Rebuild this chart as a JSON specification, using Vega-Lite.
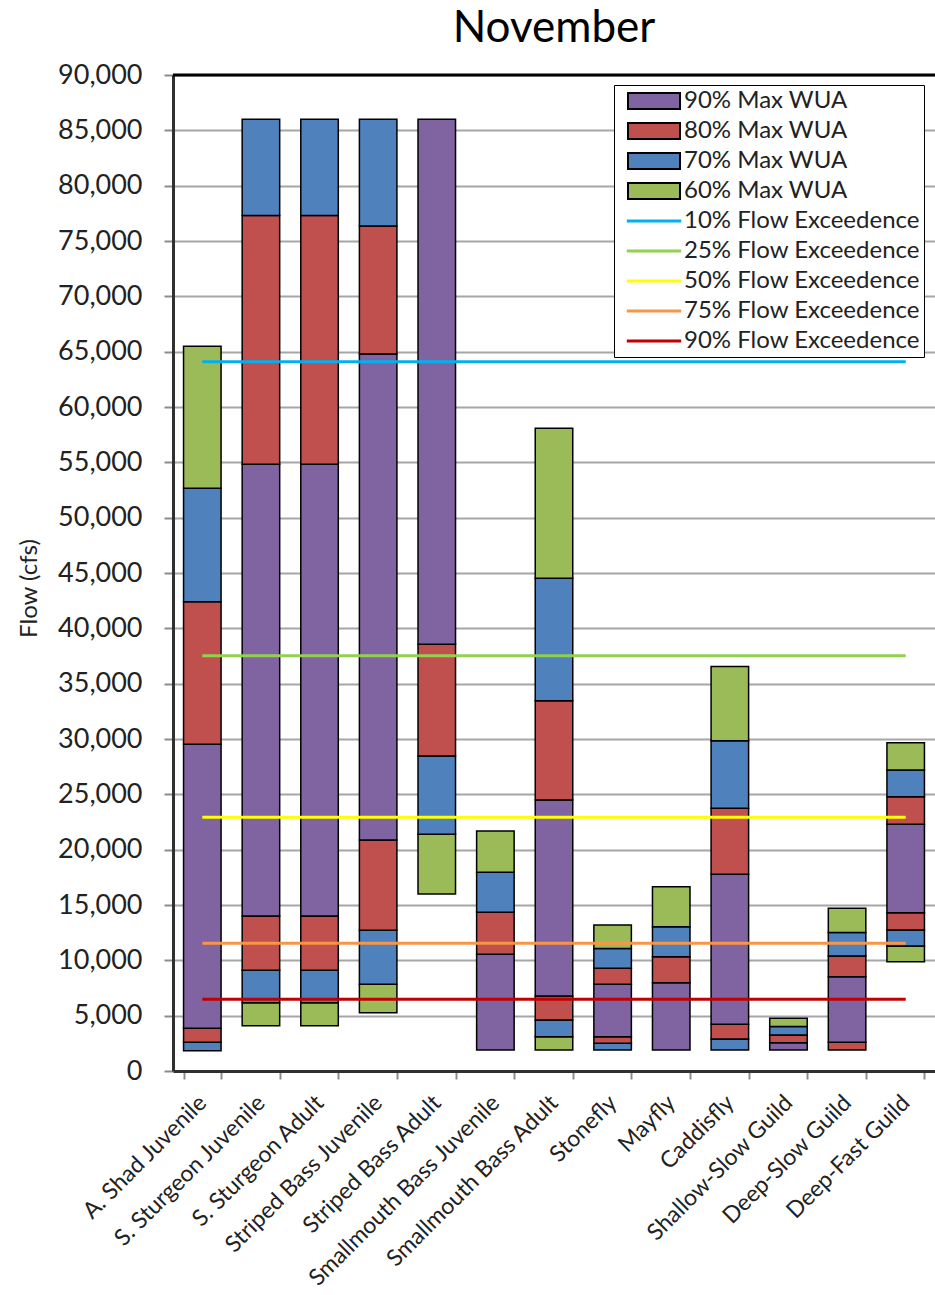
{
  "$schema": "https://vega.github.io/schema/vega-lite/v6.json",
  "width": 762,
  "height": 996,
  "autosize": "none",
  "padding": {"left": 173, "top": 75, "right": 0, "bottom": 224},
  "background": "white",
  "config": {
    "view": {"stroke": null},
    "font": "Lato"
  },
  "title": {"text": "November", "fontSize": 44, "font": "Lato", "fontWeight": "normal", "color": "black", "anchor": "middle", "offset": 10},
  "datasets": {
    "bars": [
      {"species": "A. Shad Juvenile", "level": "70% Max WUA", "lo": 1840, "hi": 2590},
      {"species": "A. Shad Juvenile", "level": "80% Max WUA", "lo": 2590, "hi": 3860},
      {"species": "A. Shad Juvenile", "level": "90% Max WUA", "lo": 3860, "hi": 29520},
      {"species": "A. Shad Juvenile", "level": "80% Max WUA", "lo": 29520, "hi": 42400},
      {"species": "A. Shad Juvenile", "level": "70% Max WUA", "lo": 42400, "hi": 52650},
      {"species": "A. Shad Juvenile", "level": "60% Max WUA", "lo": 52650, "hi": 65500},
      {"species": "S. Sturgeon Juvenile", "level": "60% Max WUA", "lo": 4100, "hi": 6170},
      {"species": "S. Sturgeon Juvenile", "level": "70% Max WUA", "lo": 6170, "hi": 9100},
      {"species": "S. Sturgeon Juvenile", "level": "80% Max WUA", "lo": 9100, "hi": 14000},
      {"species": "S. Sturgeon Juvenile", "level": "90% Max WUA", "lo": 14000, "hi": 54820},
      {"species": "S. Sturgeon Juvenile", "level": "80% Max WUA", "lo": 54820, "hi": 77300},
      {"species": "S. Sturgeon Juvenile", "level": "70% Max WUA", "lo": 77300, "hi": 86000},
      {"species": "S. Sturgeon Adult", "level": "60% Max WUA", "lo": 4100, "hi": 6170},
      {"species": "S. Sturgeon Adult", "level": "70% Max WUA", "lo": 6170, "hi": 9100},
      {"species": "S. Sturgeon Adult", "level": "80% Max WUA", "lo": 9100, "hi": 14000},
      {"species": "S. Sturgeon Adult", "level": "90% Max WUA", "lo": 14000, "hi": 54820},
      {"species": "S. Sturgeon Adult", "level": "80% Max WUA", "lo": 54820, "hi": 77300},
      {"species": "S. Sturgeon Adult", "level": "70% Max WUA", "lo": 77300, "hi": 86000},
      {"species": "Striped Bass Juvenile", "level": "60% Max WUA", "lo": 5270, "hi": 7830},
      {"species": "Striped Bass Juvenile", "level": "70% Max WUA", "lo": 7830, "hi": 12710},
      {"species": "Striped Bass Juvenile", "level": "80% Max WUA", "lo": 12710, "hi": 20870},
      {"species": "Striped Bass Juvenile", "level": "90% Max WUA", "lo": 20870, "hi": 64790},
      {"species": "Striped Bass Juvenile", "level": "80% Max WUA", "lo": 64790, "hi": 76350},
      {"species": "Striped Bass Juvenile", "level": "70% Max WUA", "lo": 76350, "hi": 86000},
      {"species": "Striped Bass Adult", "level": "60% Max WUA", "lo": 15990, "hi": 21390},
      {"species": "Striped Bass Adult", "level": "70% Max WUA", "lo": 21390, "hi": 28460},
      {"species": "Striped Bass Adult", "level": "80% Max WUA", "lo": 28460, "hi": 38560},
      {"species": "Striped Bass Adult", "level": "90% Max WUA", "lo": 38560, "hi": 86000},
      {"species": "Smallmouth Bass Juvenile", "level": "90% Max WUA", "lo": 1900, "hi": 10540},
      {"species": "Smallmouth Bass Juvenile", "level": "80% Max WUA", "lo": 10540, "hi": 14340},
      {"species": "Smallmouth Bass Juvenile", "level": "70% Max WUA", "lo": 14340, "hi": 17950},
      {"species": "Smallmouth Bass Juvenile", "level": "60% Max WUA", "lo": 17950, "hi": 21690},
      {"species": "Smallmouth Bass Adult", "level": "60% Max WUA", "lo": 1900, "hi": 3100},
      {"species": "Smallmouth Bass Adult", "level": "70% Max WUA", "lo": 3100, "hi": 4610},
      {"species": "Smallmouth Bass Adult", "level": "80% Max WUA", "lo": 4610, "hi": 6780},
      {"species": "Smallmouth Bass Adult", "level": "90% Max WUA", "lo": 6780, "hi": 24490},
      {"species": "Smallmouth Bass Adult", "level": "80% Max WUA", "lo": 24490, "hi": 33460},
      {"species": "Smallmouth Bass Adult", "level": "70% Max WUA", "lo": 33460, "hi": 44520},
      {"species": "Smallmouth Bass Adult", "level": "60% Max WUA", "lo": 44520, "hi": 58070},
      {"species": "Stonefly", "level": "70% Max WUA", "lo": 1900, "hi": 2500},
      {"species": "Stonefly", "level": "80% Max WUA", "lo": 2500, "hi": 3100},
      {"species": "Stonefly", "level": "90% Max WUA", "lo": 3100, "hi": 7830},
      {"species": "Stonefly", "level": "80% Max WUA", "lo": 7830, "hi": 9280},
      {"species": "Stonefly", "level": "70% Max WUA", "lo": 9280, "hi": 11080},
      {"species": "Stonefly", "level": "60% Max WUA", "lo": 11080, "hi": 13190},
      {"species": "Mayfly", "level": "90% Max WUA", "lo": 1900, "hi": 7980},
      {"species": "Mayfly", "level": "80% Max WUA", "lo": 7980, "hi": 10330},
      {"species": "Mayfly", "level": "70% Max WUA", "lo": 10330, "hi": 13040},
      {"species": "Mayfly", "level": "60% Max WUA", "lo": 13040, "hi": 16650},
      {"species": "Caddisfly", "level": "70% Max WUA", "lo": 1900, "hi": 2890},
      {"species": "Caddisfly", "level": "80% Max WUA", "lo": 2890, "hi": 4220},
      {"species": "Caddisfly", "level": "90% Max WUA", "lo": 4220, "hi": 17780},
      {"species": "Caddisfly", "level": "80% Max WUA", "lo": 17780, "hi": 23740},
      {"species": "Caddisfly", "level": "70% Max WUA", "lo": 23740, "hi": 29850},
      {"species": "Caddisfly", "level": "60% Max WUA", "lo": 29850, "hi": 36540},
      {"species": "Shallow-Slow Guild", "level": "90% Max WUA", "lo": 1900, "hi": 2560},
      {"species": "Shallow-Slow Guild", "level": "80% Max WUA", "lo": 2560, "hi": 3250},
      {"species": "Shallow-Slow Guild", "level": "70% Max WUA", "lo": 3250, "hi": 4010},
      {"species": "Shallow-Slow Guild", "level": "60% Max WUA", "lo": 4010, "hi": 4760},
      {"species": "Deep-Slow Guild", "level": "80% Max WUA", "lo": 1900, "hi": 2590},
      {"species": "Deep-Slow Guild", "level": "90% Max WUA", "lo": 2590, "hi": 8520},
      {"species": "Deep-Slow Guild", "level": "80% Max WUA", "lo": 8520, "hi": 10390},
      {"species": "Deep-Slow Guild", "level": "70% Max WUA", "lo": 10390, "hi": 12510},
      {"species": "Deep-Slow Guild", "level": "60% Max WUA", "lo": 12510, "hi": 14700},
      {"species": "Deep-Fast Guild", "level": "60% Max WUA", "lo": 9880, "hi": 11290},
      {"species": "Deep-Fast Guild", "level": "70% Max WUA", "lo": 11290, "hi": 12740},
      {"species": "Deep-Fast Guild", "level": "80% Max WUA", "lo": 12740, "hi": 14300},
      {"species": "Deep-Fast Guild", "level": "90% Max WUA", "lo": 14300, "hi": 22290},
      {"species": "Deep-Fast Guild", "level": "80% Max WUA", "lo": 22290, "hi": 24790},
      {"species": "Deep-Fast Guild", "level": "70% Max WUA", "lo": 24790, "hi": 27200},
      {"species": "Deep-Fast Guild", "level": "60% Max WUA", "lo": 27200, "hi": 29670}
    ],
    "flows": [
      {"species": "A. Shad Juvenile", "level": "10% Flow Exceedence", "flow": 64100},
      {"species": "Deep-Fast Guild", "level": "10% Flow Exceedence", "flow": 64100},
      {"species": "A. Shad Juvenile", "level": "25% Flow Exceedence", "flow": 37530},
      {"species": "Deep-Fast Guild", "level": "25% Flow Exceedence", "flow": 37530},
      {"species": "A. Shad Juvenile", "level": "50% Flow Exceedence", "flow": 22920},
      {"species": "Deep-Fast Guild", "level": "50% Flow Exceedence", "flow": 22920},
      {"species": "A. Shad Juvenile", "level": "75% Flow Exceedence", "flow": 11540},
      {"species": "Deep-Fast Guild", "level": "75% Flow Exceedence", "flow": 11540},
      {"species": "A. Shad Juvenile", "level": "90% Flow Exceedence", "flow": 6480},
      {"species": "Deep-Fast Guild", "level": "90% Flow Exceedence", "flow": 6480}
    ]
  },
  "layer": [
    {
      "data": {"name": "bars"},
      "mark": {"type": "bar", "strokeWidth": 1.5, "opacity": 1},
      "encoding": {
        "x": {
          "field": "species", "type": "nominal",
          "scale": {
            "domain": ["A. Shad Juvenile", "S. Sturgeon Juvenile", "S. Sturgeon Adult", "Striped Bass Juvenile", "Striped Bass Adult", "Smallmouth Bass Juvenile", "Smallmouth Bass Adult", "Stonefly", "Mayfly", "Caddisfly", "Shallow-Slow Guild", "Deep-Slow Guild", "Deep-Fast Guild"],
            "paddingInner": 0.36, "paddingOuter": 0.18
          },
          "axis": {
            "title": null, "labelAngle": -45, "labelAlign": "right", "labelBaseline": "middle",
            "labelFont": "Lato", "labelFontSize": 23, "labelColor": "#222222", "labelPadding": 20,
            "tickBand": "extent", "ticks": true, "tickSize": 8, "tickColor": "#8c8c8c", "tickWidth": 2,
            "domainColor": "#303030", "domainWidth": 3, "grid": false, "labelLimit": 400
          }
        },
        "y": {
          "field": "lo", "type": "quantitative",
          "scale": {"domain": [0, 90000], "nice": false},
          "axis": {
            "title": "Flow (cfs)", "titleFont": "Lato", "titleFontSize": 24, "titleFontWeight": "normal", "titleColor": "#222222",
            "titleX": -137, "titleY": 513, "titleAngle": -90, "titleBaseline": "alphabetic", "titleAlign": "center",
            "values": [0, 5000, 10000, 15000, 20000, 25000, 30000, 35000, 40000, 45000, 50000, 55000, 60000, 65000, 70000, 75000, 80000, 85000, 90000],
            "labelExpr": "format(datum.value, ',')",
            "labelFont": "Lato", "labelFontSize": 27, "labelColor": "#222222", "labelPadding": 22,
            "tickSize": 9, "tickColor": "#8c8c8c", "tickWidth": 2,
            "domainColor": "#303030", "domainWidth": 3,
            "grid": true, "gridColor": "#a6a6a6", "gridWidth": 2
          }
        },
        "y2": {"field": "hi"},
        "fill": {
          "field": "level", "type": "nominal",
          "scale": {
            "domain": ["90% Max WUA", "80% Max WUA", "70% Max WUA", "60% Max WUA", "10% Flow Exceedence", "25% Flow Exceedence", "50% Flow Exceedence", "75% Flow Exceedence", "90% Flow Exceedence"],
            "range": ["#8064A2", "#C0504D", "#4F81BD", "#9BBB59", "transparent", "transparent", "transparent", "transparent", "transparent"]
          },
          "legend": {
            "orient": "none", "legendX": 441, "legendY": 10, "title": null, "zindex": 0,
            "strokeColor": "black", "fillColor": "white", "padding": 4,
            "symbolType": "M-3.25,-1H3.25V1H-3.25Z", "symbolSize": 256, "symbolOffset": 24, "symbolStrokeWidth": 2,
            "labelOffset": 18, "labelFont": "Lato", "labelFontSize": 24, "labelColor": "#222222",
            "rowPadding": 6, "labelLimit": 400
          }
        },
        "stroke": {
          "field": "level", "type": "nominal",
          "scale": {
            "domain": ["90% Max WUA", "80% Max WUA", "70% Max WUA", "60% Max WUA", "10% Flow Exceedence", "25% Flow Exceedence", "50% Flow Exceedence", "75% Flow Exceedence", "90% Flow Exceedence"],
            "range": ["black", "black", "black", "black", "transparent", "transparent", "transparent", "transparent", "transparent"]
          },
          "legend": {
            "orient": "none", "legendX": 441, "legendY": 10, "title": null, "zindex": 0,
            "strokeColor": "black", "fillColor": "white", "padding": 4,
            "symbolType": "M-3.25,-1H3.25V1H-3.25Z", "symbolSize": 256, "symbolOffset": 24, "symbolStrokeWidth": 2,
            "labelOffset": 18, "labelFont": "Lato", "labelFontSize": 24, "labelColor": "#222222",
            "rowPadding": 6, "labelLimit": 400
          }
        }
      }
    },
    {
      "data": {"name": "flows"},
      "mark": {"type": "line", "strokeWidth": 3},
      "encoding": {
        "x": {"field": "species", "type": "nominal"},
        "y": {"field": "flow", "type": "quantitative"},
        "color": {
          "field": "level", "type": "nominal",
          "scale": {
            "domain": ["10% Flow Exceedence", "25% Flow Exceedence", "50% Flow Exceedence", "75% Flow Exceedence", "90% Flow Exceedence"],
            "range": ["#00B0F0", "#92D050", "#FFFF00", "#F79646", "#C00000"]
          },
          "legend": {
            "orient": "none", "legendX": 441, "legendY": 130, "title": null, "zindex": 1,
            "strokeColor": null, "fillColor": null, "padding": 4,
            "symbolType": "M-3.4,0H3.4", "symbolSize": 256, "symbolOffset": 24, "symbolStrokeWidth": 3,
            "labelOffset": 18, "labelFont": "Lato", "labelFontSize": 24, "labelColor": "#222222", "labelOpacity": 0,
            "rowPadding": 6, "labelLimit": 400
          }
        }
      }
    },
    {
      "data": {"values": [{"top": 90000}]},
      "mark": {"type": "rule", "color": "black", "strokeWidth": 3},
      "encoding": {"y": {"field": "top", "type": "quantitative"}}
    }
  ]
}
